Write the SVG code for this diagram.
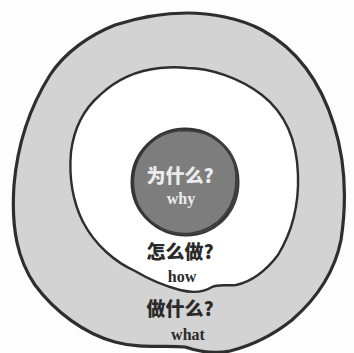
<svg xmlns="http://www.w3.org/2000/svg" width="354" height="353" viewBox="0 0 354 353">
<style>
.ring{stroke:#2e2e2e;stroke-linejoin:round;stroke-linecap:round}
.cn{font-family:"Noto Sans CJK SC","Noto Sans CJK JP",sans-serif;font-weight:900;text-anchor:middle}
.en{font-family:"Liberation Serif",serif;font-weight:bold;text-anchor:middle}
</style>
<rect width="354" height="353" fill="#fdfdfd"/>
<g id="what">
<path class="ring" fill="#d3d3d3" stroke-width="3.2" d="M187,13 C210,13 240,18 262,30 C295,48 320,80 334,125 C345,160 347,200 341,240 C334,275 315,300 292,320 C272,336 250,346 230,351 C215,354 200,352 185,347 C165,345 140,349 115,342 C85,334 55,312 35,285 C18,260 11,230 14,185 C17,150 28,110 50,75 C65,52 90,35 115,25 C140,17 165,13 187,13 Z"/>
<text class="cn" x="180" y="316" font-size="19" fill="#2a2a2a">做什么?</text>
<text class="en" x="188" y="340" font-size="16" fill="#2a2a2a">what</text>
</g>
<g id="how">
<path class="ring" fill="#ffffff" stroke-width="2.4" d="M187,68 C210,68 240,78 262,95 C285,113 297,140 298,175 C299,205 292,232 278,255 C265,272 250,282 236,285 C225,286 218,284 212,287 C204,292 192,293 180,290 C165,286 150,280 135,271 C115,262 95,245 83,222 C72,200 69,175 71,152 C74,128 85,108 100,95 C118,78 140,70 160,68 C170,67 180,67 187,68 Z"/>
<text class="cn" x="180" y="259" font-size="19" fill="#2a2a2a">怎么做?</text>
<text class="en" x="182" y="282" font-size="16" fill="#2a2a2a">how</text>
</g>
<g id="why">
<path fill="#7d7d7d" stroke="#333" stroke-width="3" d="M185,129 C212,129 238,150 238,182 C238,212 215,235 186,235 C157,235 132,212 132,182 C132,152 157,129 185,129 Z"/>
<path fill="none" stroke="#3a3a3a" stroke-width="1.6" d="M180,131 C210,127 236,148 236,178 C237,206 220,228 192,233 C163,237 138,218 134,190 C130,160 150,134 178,131"/>
<path fill="none" stroke="#444" stroke-width="1.2" d="M160,136 C180,126 215,130 230,152 C242,172 240,205 222,222 C205,236 180,238 160,228"/>
<text class="cn" x="180" y="183" font-size="19" fill="#ececec">为什么?</text>
<text class="en" x="181" y="204" font-size="16" fill="#ececec">why</text>
</g>
</svg>
